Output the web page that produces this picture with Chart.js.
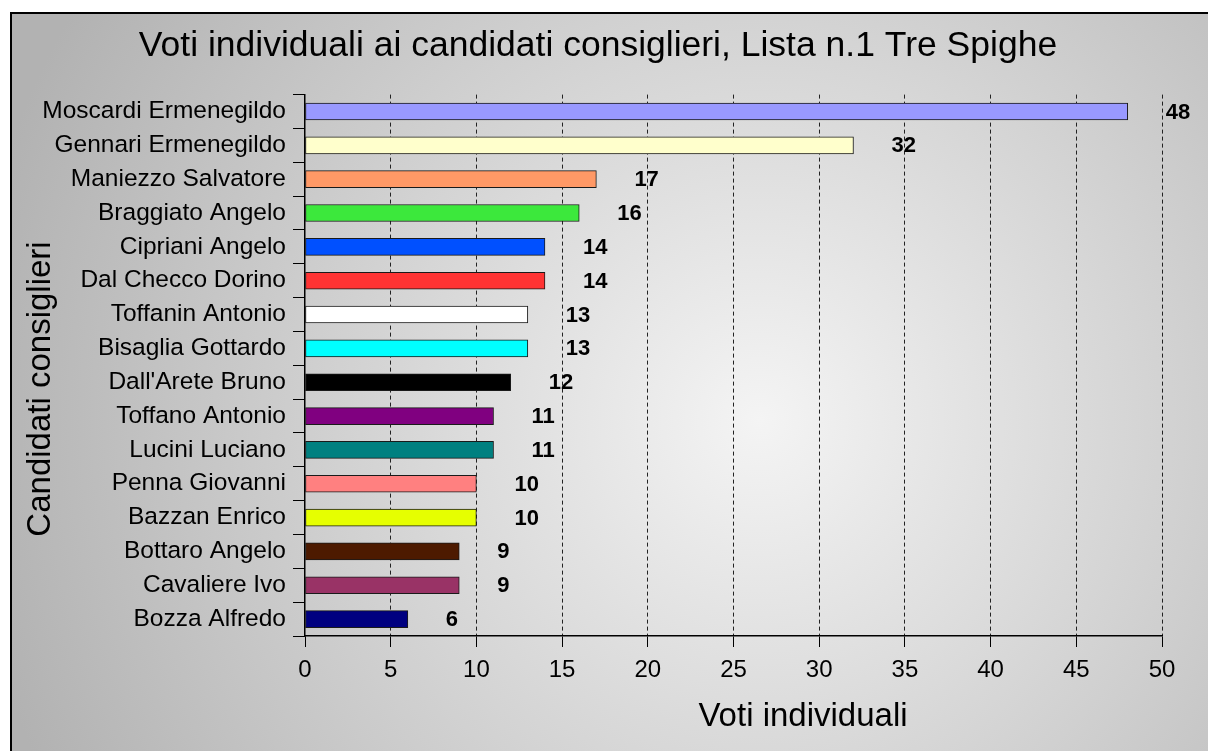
<!DOCTYPE html>
<html>
<head>
<meta charset="utf-8">
<script src="https://cdn.jsdelivr.net/npm/chart.js@4.4.0/dist/chart.umd.min.js"></script>
<style>
  body { margin: 0; background: #fff; }
  #wrap { width: 1208px; height: 751px; }
</style>
</head>
<body>
<div id="wrap"><canvas id="chart" width="1208" height="751"></canvas></div>
<script>
// data
const candidates = [
  'Moscardi Ermenegildo', 'Gennari Ermenegildo', 'Maniezzo Salvatore', 'Braggiato Angelo',
  'Cipriani Angelo', 'Dal Checco Dorino', 'Toffanin Antonio', 'Bisaglia Gottardo',
  "Dall'Arete Bruno", 'Toffano Antonio', 'Lucini Luciano', 'Penna Giovanni',
  'Bazzan Enrico', 'Bottaro Angelo', 'Cavaliere Ivo', 'Bozza Alfredo'
];
const votes = [48, 32, 17, 16, 14, 14, 13, 13, 12, 11, 11, 10, 10, 9, 9, 6];
const barColors = [
  '#9999ff', '#ffffcc', '#ff9966', '#3ce83c', '#0050ff', '#ff3333', '#ffffff', '#00ffff',
  '#000000', '#800080', '#008080', '#ff8080', '#e6ff00', '#4d1a00', '#993366', '#000080'
];
const xTicks = [0, 5, 10, 15, 20, 25, 30, 35, 40, 45, 50];

const FONT = '"Liberation Sans", Arial, sans-serif';

// gray radial background + frame
const backdrop = {
  id: 'backdrop',
  beforeDraw(chart) {
    const ctx = chart.ctx;
    ctx.save();
    const g = ctx.createRadialGradient(760, 420, 0, 760, 420, 800);
    g.addColorStop(0, '#f4f4f4');
    g.addColorStop(1, '#b2b2b2');
    ctx.fillStyle = g;
    ctx.fillRect(0, 0, chart.width, chart.height);
    ctx.fillStyle = '#ffffff';
    ctx.fillRect(0, 0, chart.width, 12);
    ctx.fillRect(0, 0, 10, chart.height);
    ctx.strokeStyle = '#000';
    ctx.lineWidth = 2;
    ctx.strokeRect(11, 13, 1400, 1000);
    ctx.restore();
  }
};

// bold numbers next to the bars
const valueLabels = {
  id: 'valueLabels',
  afterDatasetsDraw(chart) {
    const ctx = chart.ctx;
    const meta = chart.getDatasetMeta(0);
    ctx.save();
    ctx.font = 'bold 22px ' + FONT;
    ctx.fillStyle = '#000';
    ctx.textAlign = 'left';
    ctx.textBaseline = 'middle';
    meta.data.forEach((bar, i) => {
      ctx.fillText(String(votes[i]), bar.x + 38, bar.y + 1);
    });
    ctx.restore();
  }
};

// axis titles (placed off-centre like the original)
const axisTitles = {
  id: 'axisTitles',
  afterDraw(chart) {
    const ctx = chart.ctx;
    ctx.save();
    ctx.font = '33px ' + FONT;
    ctx.fillStyle = '#000';
    ctx.textAlign = 'center';
    ctx.textBaseline = 'alphabetic';
    ctx.fillText('Voti individuali', 803, 726);
    ctx.translate(50, 389);
    ctx.rotate(-Math.PI / 2);
    ctx.fillText('Candidati consiglieri', 0, 0);
    ctx.restore();
  }
};

new Chart(document.getElementById('chart'), {
  type: 'bar',
  data: {
    labels: candidates,
    datasets: [{
      data: votes,
      backgroundColor: barColors,
      borderColor: '#1a1a1a',
      borderWidth: 1,
      borderSkipped: false,
      barThickness: 17
    }]
  },
  options: {
    indexAxis: 'y',
    responsive: false,
    animation: false,
    layout: { padding: { left: 34, right: 46, top: 0, bottom: 0 } },
    plugins: {
      legend: { display: false },
      tooltip: { enabled: false },
      title: {
        display: true,
        text: 'Voti individuali ai candidati consiglieri, Lista n.1 Tre Spighe',
        color: '#000',
        font: { family: FONT, size: 35.5, weight: 'normal', lineHeight: 1.2 },
        padding: { top: 25, bottom: 27 }
      }
    },
    scales: {
      x: {
        min: 0,
        max: 50,
        afterFit: s => { s.height = 115; },
        afterBuildTicks: s => { s.ticks = xTicks.map(v => ({ value: v })); },
        ticks: {
          color: '#000',
          padding: 9,
          font: { family: FONT, size: 24 }
        },
        grid: {
          color: c => (c.tick && c.tick.value === 0) ? 'rgba(0,0,0,0)' : '#222',
          tickColor: '#000',
          tickBorderDash: [],
          tickLength: 11,
          lineWidth: 1
        },
        border: { color: '#000', width: 1.5, dash: [4, 3] }
      },
      y: {
        afterFit: s => { s.width = 271; },
        ticks: {
          color: '#000',
          padding: 7,
          font: { family: FONT, size: 24.5 }
        },
        grid: {
          offset: true,
          drawOnChartArea: false,
          tickColor: '#000',
          tickLength: 12
        },
        border: { color: '#000', width: 1.5 }
      }
    }
  },
  plugins: [backdrop, valueLabels, axisTitles]
});
</script>
</body>
</html>
